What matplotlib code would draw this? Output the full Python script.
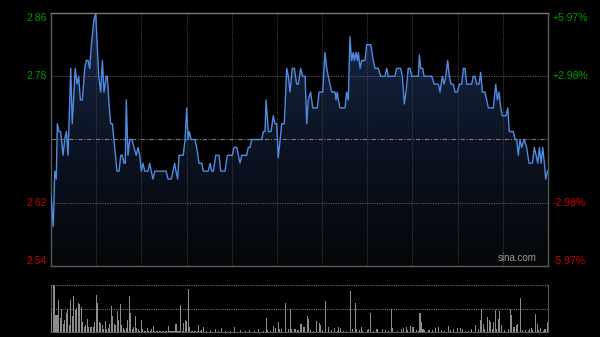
import numpy as np
import matplotlib
matplotlib.use("Agg")
import matplotlib.pyplot as plt
from matplotlib.colors import LinearSegmentedColormap
from matplotlib.patches import Polygon

# minutes since open (HK session, 330 minutes) and traced price
minutes = [0, 1.5, 2.5, 3.5, 4.2, 5.3, 6.4, 8.0, 9.1, 10.2, 11.3, 13.1, 14.1, 16.1, 17.3, 18.4,
           19.5, 20.8, 22.4, 23.4, 24.6, 25.7, 26.8, 28.4, 29.7, 30.7, 31.7, 33.0, 34.1, 35.2,
           36.7, 37.4, 38.5, 39.6, 40.7, 42.3, 43.8, 45.2, 46.3, 47.3, 48.5, 49.3, 50.0, 51.1,
           52.3, 53.8, 55.1, 56.6, 57.8, 58.9, 60.0, 61.1, 62.2, 64.4, 65.5, 66.6, 67.7, 68.9,
           76.4, 77.7, 79.9, 81.0, 82.1, 83.0, 84.1, 85.0, 87.8, 89.0, 90.1, 91.0, 91.8, 93.0,
           95.6, 96.7, 98.3, 100.1, 101.1, 104.4, 105.6, 106.7, 107.8, 109.4, 111.6, 112.7,
           115.5, 117.1, 120.4, 121.5, 123.3, 124.4, 125.5, 126.6, 129.9, 131.0, 132.1, 133.3,
           139.9, 141.0, 142.1, 142.8, 144.3, 146.1, 147.6, 148.7, 149.9, 150.9, 152.1, 153.2,
           154.9, 156.5, 157.6, 158.7, 160.2, 161.6, 163.1, 164.2, 165.8, 167.1, 168.7, 169.8,
           170.8, 172.4, 173.8, 176.8, 178.0, 180.4, 181.9, 183.1, 184.1, 186.4, 188.6, 189.2,
           190.1, 190.8, 191.9, 195.2, 196.3, 197.4, 198.5, 199.6, 200.7, 201.4, 202.5, 203.4,
           204.1, 205.2, 206.3, 208.5, 209.6, 212.3, 214.0, 215.1, 217.3, 218.9, 221.8, 222.9,
           224.0, 228.4, 229.5, 232.2, 233.3, 234.6, 235.7, 237.2, 238.4, 239.5, 243.9, 244.6,
           245.5, 246.8, 247.7, 252.8, 254.5, 257.2, 258.3, 259.8, 261.0, 262.1, 263.4, 264.5,
           265.6, 267.1, 268.3, 269.8, 271.1, 272.7, 273.8, 274.9, 276.0, 279.3, 280.4, 281.5,
           282.7, 284.2, 285.3, 286.4, 288.2, 289.3, 290.4, 293.7, 295.3, 296.4, 297.5, 298.6,
           299.7, 302.1, 303.3, 304.3, 307.0, 308.1, 309.2, 310.3, 311.4, 312.5, 314.1, 315.8,
           317.4, 319.6, 320.9, 322.1, 323.2, 324.3, 325.4, 326.5, 327.6, 328.5, 329.6]
prices = [2.63, 2.59, 2.66, 2.65, 2.72, 2.71, 2.71, 2.68, 2.70, 2.71, 2.68, 2.79, 2.72, 2.79, 2.77, 2.78,
          2.75, 2.75, 2.79, 2.80, 2.80, 2.79, 2.82, 2.85, 2.86, 2.82, 2.78, 2.76, 2.80, 2.76,
          2.78, 2.78, 2.745, 2.72, 2.72, 2.69, 2.66, 2.66, 2.68, 2.68, 2.67, 2.67, 2.75, 2.68,
          2.70, 2.70, 2.69, 2.68, 2.69, 2.68, 2.66, 2.67, 2.66, 2.66, 2.67, 2.66, 2.65, 2.66,
          2.66, 2.65, 2.65, 2.66, 2.67, 2.66, 2.65, 2.68, 2.68, 2.70, 2.74, 2.70, 2.71, 2.70,
          2.70, 2.69, 2.67, 2.67, 2.66, 2.66, 2.67, 2.66, 2.66, 2.68, 2.68, 2.66,
          2.66, 2.68, 2.68, 2.69, 2.69, 2.68, 2.67, 2.68, 2.68, 2.69, 2.69, 2.70,
          2.70, 2.71, 2.71, 2.75, 2.71, 2.71, 2.73, 2.72, 2.72, 2.677, 2.70, 2.72,
          2.72, 2.79, 2.78, 2.76, 2.79, 2.79, 2.77, 2.77, 2.79, 2.78, 2.78, 2.72,
          2.75, 2.76, 2.74, 2.74, 2.76, 2.76, 2.81, 2.79, 2.78, 2.76, 2.76, 2.75,
          2.76, 2.75, 2.74, 2.74, 2.76, 2.75, 2.83, 2.80, 2.81, 2.80, 2.81, 2.80,
          2.81, 2.79, 2.80, 2.80, 2.82, 2.82, 2.80, 2.79, 2.79, 2.78, 2.78, 2.79,
          2.78, 2.78, 2.79, 2.79, 2.78, 2.745, 2.76, 2.79, 2.79, 2.78, 2.78, 2.807,
          2.79, 2.79, 2.78, 2.78, 2.77, 2.77, 2.76, 2.78, 2.77, 2.78, 2.80, 2.78,
          2.77, 2.77, 2.76, 2.76, 2.77, 2.77, 2.79, 2.79, 2.77, 2.77, 2.78, 2.78,
          2.77, 2.77, 2.785, 2.76, 2.76, 2.75, 2.74, 2.74, 2.77, 2.75, 2.76, 2.74,
          2.73, 2.73, 2.74, 2.71, 2.71, 2.70, 2.70, 2.68, 2.70, 2.69, 2.70, 2.69,
          2.67, 2.67, 2.69, 2.68, 2.67, 2.69, 2.67, 2.69, 2.67, 2.65, 2.66]

# volume bars (minute, relative volume)
vol_minutes = [0, 2, 3, 4, 5, 6, 7, 8, 9, 10, 11, 12, 13, 14, 15, 16, 17, 18, 19, 20, 21, 22, 23, 24,
               25, 26, 27, 28, 29, 30, 31, 32, 33, 34, 35, 36, 37, 38, 39, 40, 41, 42, 43, 44, 45,
               46, 47, 48, 49, 50, 51, 52, 53, 54, 55, 56, 57, 58, 59, 60, 61, 62, 63, 64, 65, 66,
               67, 68, 69, 70, 71, 72, 73, 74, 75, 76, 77, 78, 79, 80, 81, 82, 83, 84, 85, 86, 87,
               88, 89, 90, 91, 92, 93, 94, 95, 96, 97, 98, 99, 100, 101, 103, 106, 109, 111, 113,
               116, 119, 122, 126, 129, 132, 135, 138, 141, 143, 144, 146, 148, 149, 151, 152, 153,
               156, 158, 159, 160, 162, 164, 166, 168, 170, 171, 172, 174, 176, 178, 179, 180, 182,
               184, 186, 188, 190, 191, 192, 194, 196, 199, 200, 202, 203, 205, 206, 207, 210, 211,
               212, 214, 216, 217, 220, 222, 224, 226, 227, 230, 233, 234, 236, 237, 239, 240, 241,
               243, 244, 245, 246, 247, 248, 251, 253, 255, 257, 259, 261, 264, 265, 267, 270, 272,
               273, 275, 277, 279, 282, 284, 285, 286, 287, 288, 290, 291, 292, 293, 294, 295, 296,
               297, 298, 299, 301, 304, 305, 306, 307, 308, 309, 310, 312, 313, 315, 317, 318, 319,
               320, 322, 323, 324, 325, 327, 328, 330]
volumes = [40, 100, 36, 36, 68, 29, 50, 18, 25, 40, 47, 15, 68, 33, 77, 47, 52, 61, 59, 54, 22, 11, 15, 27,
           11, 10, 11, 10, 22, 79, 61, 22, 20, 15, 6, 23, 6, 8, 18, 55, 33, 18, 15, 45, 25,
           60, 15, 8, 4, 8, 25, 77, 41, 6, 11, 34, 8, 6, 3, 25, 6, 3, 3, 9, 3, 3,
           6, 13, 3, 3, 2, 3, 2, 3, 2, 3, 2, 13, 3, 2, 3, 2, 16, 3, 3, 57, 3,
           20, 25, 24, 91, 11, 3, 2, 3, 2, 3, 15, 3, 5, 10, 3, 4, 6, 3, 8,
           3, 3, 11, 4, 3, 4, 3, 7, 3, 30, 4, 3, 13, 8, 22, 6, 6,
           61, 6, 50, 6, 6, 4, 17, 11, 33, 27, 4, 3, 24, 20, 15, 4, 66,
           10, 4, 9, 3, 11, 8, 3, 3, 87, 6, 62, 6, 4, 10, 3, 4, 6,
           41, 3, 7, 7, 7, 4, 3, 50, 9, 3, 7, 9, 10, 4, 13, 11, 10,
           4, 3, 41, 22, 6, 4, 4, 4, 9, 10, 4, 3, 13, 4, 7, 8, 9,
           7, 3, 3, 6, 15, 6, 25, 50, 17, 6, 31, 25, 22, 6, 22, 47, 6,
           27, 45, 15, 4, 6, 49, 36, 11, 11, 15, 18, 72, 4, 4, 3, 6, 8,
           4, 38, 18, 4, 8, 3, 6, 21]

prev_close = 2.70
price_ticks = [2.86, 2.78, 2.62, 2.54]
pct_labels = ["+5.97%", "+2.98%", "-2.98%", "-5.97%"]
tick_colors = ["#009a00", "#009a00", "#c80000", "#c80000"]

plt.rcParams['font.family'] = ['Liberation Sans', 'DejaVu Sans']

fig = plt.figure(figsize=(6, 3.37), dpi=100)
fig.patch.set_facecolor('#000000')

# ---- price panel ----
ax = fig.add_axes([51/600, 1-266/337, 497/600, 253/337])
ax.set_facecolor('#000000')
ax.set_xlim(0, 330)
ax.set_ylim(2.54, 2.86)

# gradient fill under the line
grad = np.linspace(0, 1, 256).reshape(-1, 1)
cmap = LinearSegmentedColormap.from_list('fill', ['#040609', '#0c1424', '#19294a'])
img = ax.imshow(grad, extent=[0, 330, 2.54, 2.86], origin='lower', aspect='auto',
                cmap=cmap, zorder=1)
verts = [(minutes[0], 2.54)] + list(zip(minutes, prices)) + [(minutes[-1], 2.54)]
poly = Polygon(verts, closed=True, facecolor='none', edgecolor='none')
ax.add_patch(poly)
img.set_clip_path(poly)

ax.plot(minutes, prices, color='#4f8be0', lw=1.0, zorder=4)

# grid
for m in range(30, 330, 30):
    ax.axvline(m, color='#3c3c3c', lw=0.8, ls=(0, (1, 1)), zorder=2)
for p in [2.78, 2.62]:
    ax.axhline(p, color='#6e6e6e', lw=0.7, ls=(0, (1, 1.5)), zorder=2)
ax.axhline(prev_close, color='#7a7a7a', lw=0.8, ls=(0, (4, 1.5, 1, 1.5)), zorder=2)

for s in ax.spines.values():
    s.set_color('#5a5a5a')
    s.set_linewidth(1)
ax.spines['top'].set_color('#7a7a7a')
ax.set_xticks([])
ax.set_yticks([])

# axis labels left and right
for i, p in enumerate(price_ticks):
    va = 'center'
    if i == 0:
        va = 'top'
    elif i == len(price_ticks) - 1:
        va = 'bottom'
    ax.text(-0.009, p, "%.2f" % p, transform=ax.get_yaxis_transform(), ha='right', va=va,
            color=tick_colors[i], fontsize=7.5)
    ax.text(1.01, p, pct_labels[i], transform=ax.get_yaxis_transform(), ha='left', va=va,
            color=tick_colors[i], fontsize=7.5)

ax.text(0.978, 0.01, "sina.com", transform=ax.transAxes, ha='right', va='bottom',
        color='#9a9a9a', fontsize=7)

# ---- volume panel ----
vx = fig.add_axes([51/600, 1-332/337, 497/600, 47/337])
vx.set_facecolor('#000000')
vx.set_xlim(0, 330)
vx.set_ylim(0, 100)
vx.bar(vol_minutes, volumes, width=0.7, color='#8c8c8c', linewidth=0, zorder=3)
vx.axhline(100, color='#6e6e6e', lw=0.8, ls=(0, (1, 1)), zorder=2)
vx.axhline(50, color='#6e6e6e', lw=0.8, ls=(0, (1, 1)), zorder=2)
vx.spines['top'].set_visible(False)
for s in ['left', 'right', 'bottom']:
    vx.spines[s].set_color('#5a5a5a')
vx.set_xticks([])
vx.set_yticks([])

fig.savefig('out.png', dpi=100, facecolor=fig.get_facecolor())
